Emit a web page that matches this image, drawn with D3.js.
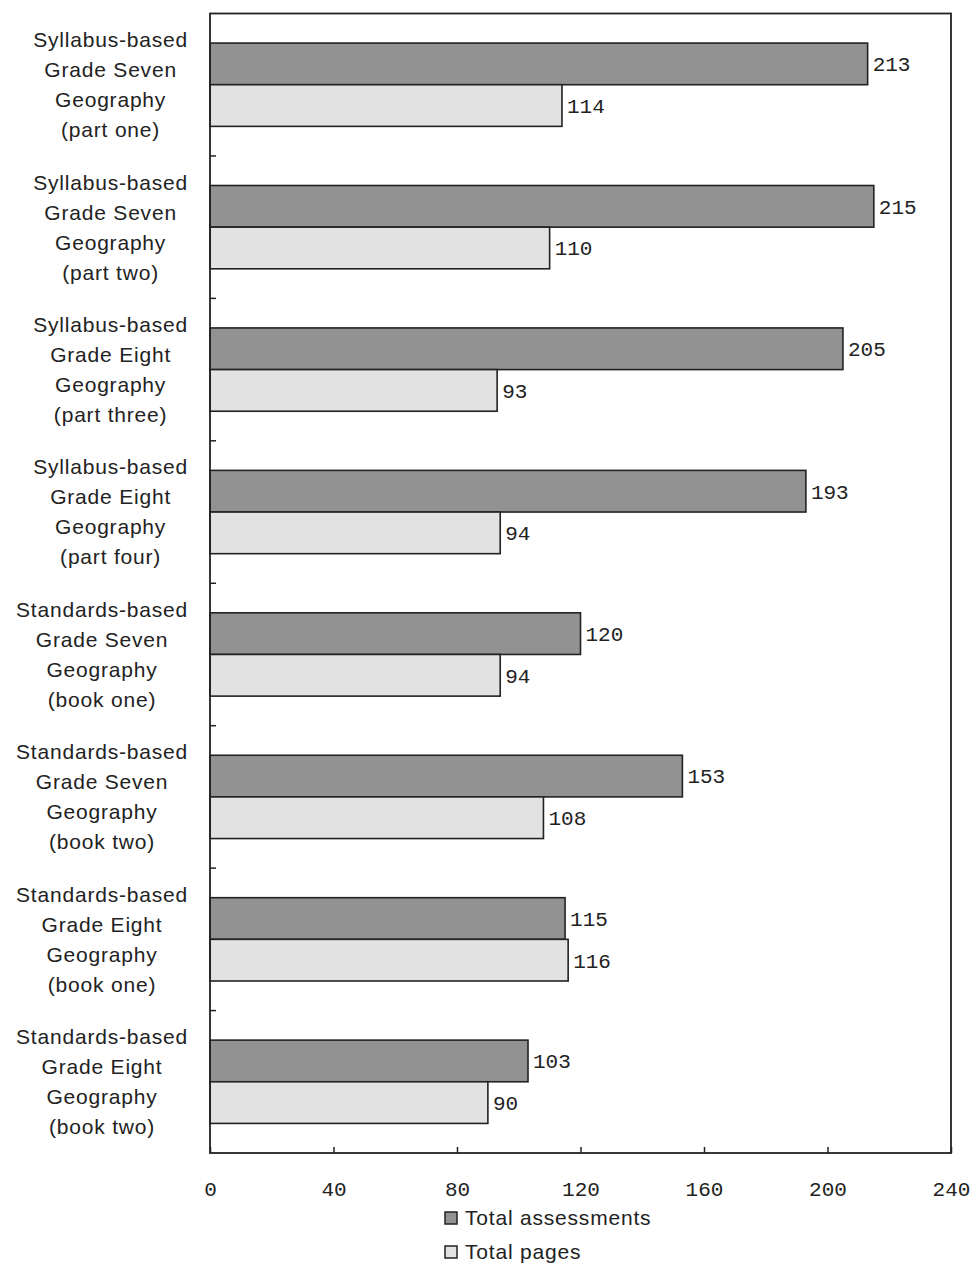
<!DOCTYPE html>
<html>
<head>
<meta charset="utf-8">
<script src="https://cdn.jsdelivr.net/npm/d3@7"></script>
<style>
  body { margin: 0; background: #fff; }
  svg { display: block; }
</style>
</head>
<body>
<div id="chart"></div>
<script>
// chart data
const categories = [
  ['Syllabus-based', 'Grade Seven', 'Geography', '(part one)'],
  ['Syllabus-based', 'Grade Seven', 'Geography', '(part two)'],
  ['Syllabus-based', 'Grade Eight', 'Geography', '(part three)'],
  ['Syllabus-based', 'Grade Eight', 'Geography', '(part four)'],
  ['Standards-based', 'Grade Seven', 'Geography', '(book one)'],
  ['Standards-based', 'Grade Seven', 'Geography', '(book two)'],
  ['Standards-based', 'Grade Eight', 'Geography', '(book one)'],
  ['Standards-based', 'Grade Eight', 'Geography', '(book two)']
]
const seriesNames = ['Total assessments', 'Total pages']
const assessments = [213, 215, 205, 193, 120, 153, 115, 103]
const pages = [114, 110, 93, 94, 94, 108, 116, 90]
const xTicks = [0, 40, 80, 120, 160, 200, 240]

const width = 971,
  height = 1263
const plotLeft = 210, plotRight = 951, plotTop = 13.5, plotBottom = 1153
const colors = ['#929292', '#e2e2e2']
const numFont = '"Liberation Mono", "DejaVu Sans Mono", monospace'
const labelFont = '"Liberation Sans", Arial, sans-serif'

const svg = d3.select('#chart')
  .append('svg')
  .attr('width', width)
  .attr('height', height)

const xScale = d3.scaleLinear()
  .domain([0, 240])
  .range([plotLeft, plotRight])

const yScale = d3.scaleBand()
  .domain(d3.range(categories.length))
  .range([plotTop, plotBottom])

const inner = d3.scaleBand()
  .domain([0, 1])
  .range([0, yScale.bandwidth()])
  .paddingOuter(0.71)

const rows = categories.map((c, i) => ({
  i: i,
  values: [assessments[i], pages[i]]
}))

// bars
const group = svg.selectAll('g.cat')
  .data(rows)
  .enter()
  .append('g')
  .attr('class', 'cat')
  .attr('transform', d => `translate(0,${yScale(d.i)})`)

group.selectAll('rect')
  .data(d => d.values.map((v, s) => ({ v: v, s: s })))
  .enter()
  .append('rect')
  .attr('x', xScale(0))
  .attr('y', d => inner(d.s))
  .attr('width', d => xScale(d.v) - xScale(0))
  .attr('height', inner.bandwidth())
  .attr('fill', d => colors[d.s])
  .attr('stroke', '#222')
  .attr('stroke-width', 1.6)

group.selectAll('text.val')
  .data(d => d.values.map((v, s) => ({ v: v, s: s })))
  .enter()
  .append('text')
  .attr('class', 'val')
  .attr('x', d => xScale(d.v) + 5)
  .attr('y', d => inner(d.s) + inner.bandwidth() / 2)
  .attr('dy', '0.35em')
  .attr('font-family', numFont)
  .attr('font-size', 21)
  .attr('fill', '#222')
  .text(d => d.v)

// frame
svg.append('rect')
  .attr('x', plotLeft)
  .attr('y', plotTop)
  .attr('width', plotRight - plotLeft)
  .attr('height', plotBottom - plotTop)
  .attr('fill', 'none')
  .attr('stroke', '#222')
  .attr('stroke-width', 1.8)

// x axis, ticks pointing inward
const axisB = d3.axisBottom(xScale)
  .tickValues(xTicks)
  .tickSize(-6)
  .tickPadding(28)
const gx = svg.append('g')
  .attr('transform', `translate(0,${plotBottom})`)
  .call(axisB)
gx.select('.domain').remove()
gx.selectAll('line').attr('stroke', '#222').attr('stroke-width', 1.5)
gx.selectAll('text')
  .attr('font-family', numFont)
  .attr('font-size', 21)
  .attr('fill', '#222')

// y ticks at category boundaries
svg.selectAll('line.ytick')
  .data(d3.range(1, categories.length))
  .enter()
  .append('line')
  .attr('class', 'ytick')
  .attr('x1', plotLeft)
  .attr('x2', plotLeft + 6)
  .attr('y1', d => yScale(d))
  .attr('y2', d => yScale(d))
  .attr('stroke', '#222')
  .attr('stroke-width', 1.5)

// category labels: block right-aligned to axis, lines centered
categories.forEach((lines, i) => {
  const g = svg.append('g')
  const cy = yScale(i) + yScale.bandwidth() / 2
  const texts = lines.map((t, k) => g.append('text')
    .attr('y', cy + (k - (lines.length - 1) / 2) * 30)
    .attr('dy', '0.35em')
    .attr('text-anchor', 'middle')
    .attr('font-family', labelFont)
    .attr('font-size', 21)
    .attr('letter-spacing', 0.8)
    .attr('fill', '#222')
    .text(t))
  const maxW = d3.max(texts, t => t.node().getComputedTextLength())
  texts.forEach(t => t.attr('x', plotLeft - 22 - maxW / 2))
})

// legend
const legend = svg.selectAll('g.legend')
  .data(seriesNames)
  .enter()
  .append('g')
  .attr('class', 'legend')
  .attr('transform', (d, i) => `translate(445,${1218 + i * 34})`)

legend.append('rect')
  .attr('x', 0)
  .attr('y', -6)
  .attr('width', 12)
  .attr('height', 12)
  .attr('fill', (d, i) => colors[i])
  .attr('stroke', '#222')
  .attr('stroke-width', 1.5)

legend.append('text')
  .attr('x', 20)
  .attr('dy', '0.35em')
  .attr('font-family', labelFont)
  .attr('font-size', 21)
  .attr('letter-spacing', 0.8)
  .attr('fill', '#222')
  .text(d => d)
</script>
</body>
</html>
